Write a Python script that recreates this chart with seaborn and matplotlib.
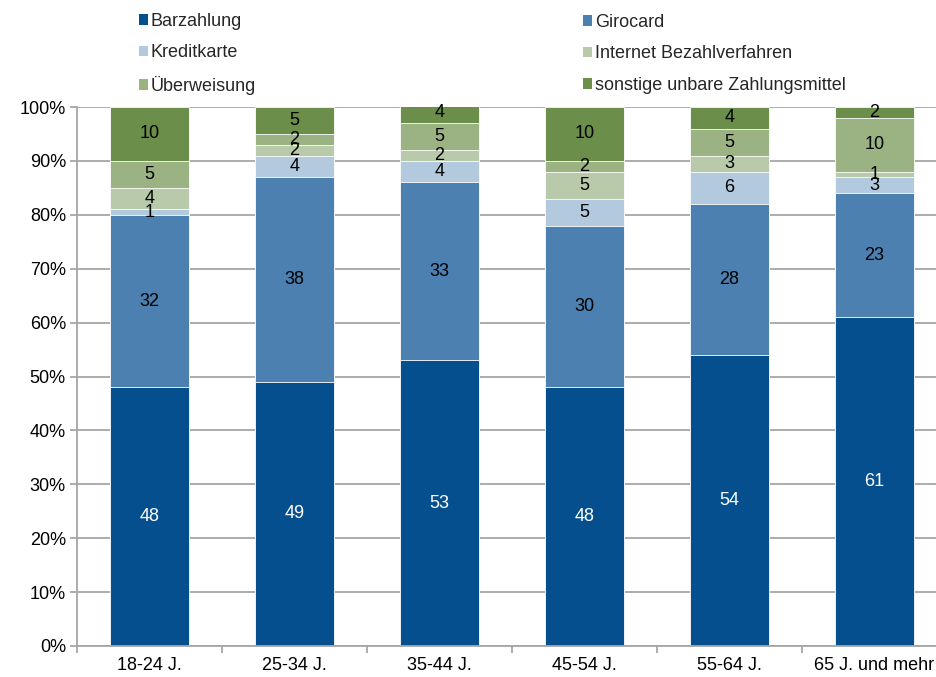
import numpy as np
import pandas as pd
import matplotlib
matplotlib.use("Agg")
import matplotlib.pyplot as plt
from matplotlib.patches import Patch
from matplotlib.ticker import FuncFormatter, FixedLocator
import seaborn as sns

# Age groups and payment shares (percent)
age_groups = ["18-24 J.", "25-34 J.", "35-44 J.", "45-54 J.", "55-64 J.", "65 J. und mehr"]
barzahlung = [48, 49, 53, 48, 54, 61]
girocard = [32, 38, 33, 30, 28, 23]
kreditkarte = [1, 4, 4, 5, 6, 3]
internet = [4, 2, 2, 5, 3, 1]
ueberweisung = [5, 2, 5, 2, 5, 10]
sonstige = [10, 5, 4, 10, 4, 2]

series_names = ["Barzahlung", "Girocard", "Kreditkarte", "Internet Bezahlverfahren",
                "Überweisung", "sonstige unbare Zahlungsmittel"]
series_values = [barzahlung, girocard, kreditkarte, internet, ueberweisung, sonstige]
series_colors = ["#054f8f", "#4b80b1", "#b3c9de", "#b8caa9", "#9bb283", "#6b8e4b"]
label_colors = ["white", "black", "black", "black", "black", "black"]

sns.set_theme(style="white")
plt.rcParams["font.family"] = ["Liberation Sans", "DejaVu Sans"]

df = pd.DataFrame({"group": age_groups})
for name, vals in zip(series_names, series_values):
    df[name] = vals
cum = df[series_names].cumsum(axis=1)

fig = plt.figure(figsize=(9.37, 6.77), dpi=100)
ax = fig.add_axes([77 / 937, 1 - 646 / 677, 870 / 937, 539 / 677])

# stacked bars: draw cumulative totals from the top layer downwards
for i in range(len(series_names) - 1, -1, -1):
    sns.barplot(x=df["group"], y=cum[series_names[i]], color=series_colors[i],
                width=0.55, saturation=1, edgecolor="white", linewidth=0.6,
                ax=ax, zorder=2)

# segment value labels
for i, name in enumerate(series_names):
    for j in range(len(age_groups)):
        v = df[name].iloc[j]
        top = cum[name].iloc[j]
        ax.text(j, top - v / 2, f"{v}", ha="center", va="center",
                fontsize=13, color=label_colors[i], zorder=5)

ax.set_xlim(-0.5, 5.5)
ax.set_ylim(0, 100)
ax.set_xlabel("")
ax.set_ylabel("")
ax.yaxis.set_major_locator(FixedLocator(np.arange(0, 101, 10)))
ax.yaxis.set_major_formatter(FuncFormatter(lambda v, p: f"{v:.0f}%"))
ax.grid(axis="y", color="#a6a6a6", linewidth=1.3, zorder=0)
ax.set_axisbelow(True)

for s in ["top", "right"]:
    ax.spines[s].set_visible(False)
for s in ["left", "bottom"]:
    ax.spines[s].set_color("#a6a6a6")
    ax.spines[s].set_linewidth(1.3)

ax.tick_params(axis="y", which="major", length=5, width=1.3, color="#a6a6a6",
               labelsize=13, labelcolor="black", pad=3, left=True)
ax.tick_params(axis="x", which="major", length=0, labelsize=13,
               labelcolor="black", pad=8)
ax.xaxis.set_minor_locator(FixedLocator(np.arange(-0.5, 6, 1)))
ax.tick_params(axis="x", which="minor", length=5, width=1.3, color="#a6a6a6",
               bottom=True)

# legend in two columns
left_idx = [0, 2, 4]
right_idx = [1, 3, 5]
for idx, xpos, ytop in [(left_idx, 139 / 937, 13 / 677), (right_idx, 583 / 937, 14 / 677)]:
    handles = [Patch(facecolor=series_colors[k], edgecolor="none") for k in idx]
    labels = [series_names[k] for k in idx]
    fig.legend(handles, labels, loc="upper left", bbox_to_anchor=(xpos, 1 - ytop),
               frameon=False, fontsize=13, handlelength=0.5, handleheight=0.5,
               handletextpad=0.15, labelspacing=0.8, borderaxespad=0,
               borderpad=0)

fig.savefig("out.png", dpi=100)
